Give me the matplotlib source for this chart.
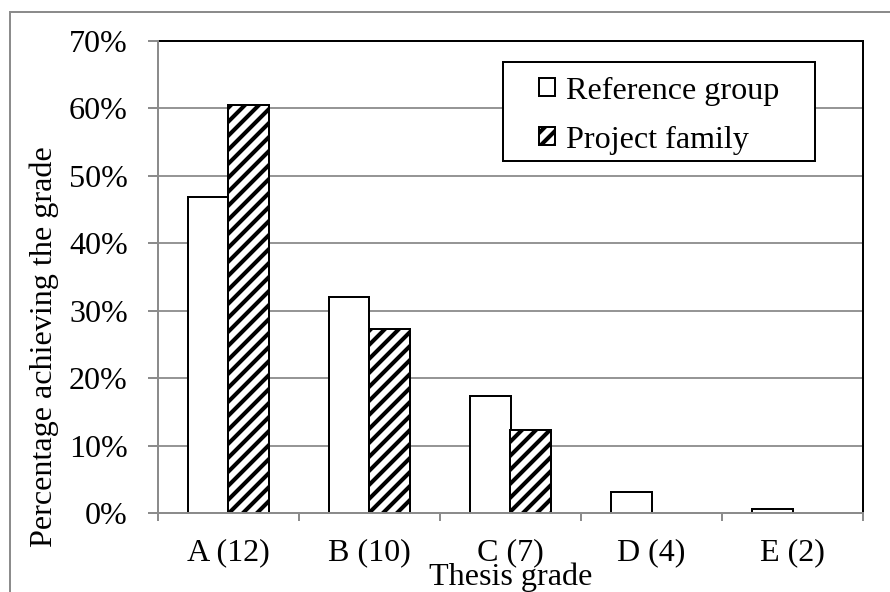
import numpy as np
import matplotlib
matplotlib.use('Agg')
import matplotlib.pyplot as plt
from matplotlib.patches import Rectangle
from matplotlib.ticker import PercentFormatter


# values
grades = ['A (12)', 'B (10)', 'C (7)', 'D (4)', 'E (2)']
reference = [0.469, 0.321, 0.174, 0.031, 0.007]
project = [0.605, 0.273, 0.123, 0.0, 0.0]

plt.rcParams['font.family'] = ['Liberation Serif', 'DejaVu Serif']
plt.rcParams['hatch.linewidth'] = 3.5

DPI = 84
W, H = 890, 592
fs = 27.5
grey = '#8c8c8c'
lw = 1.7

fig = plt.figure(figsize=(W / DPI, H / DPI), dpi=DPI)
# plot area in pixels: left 157.7, right 863.3, top 40.7, bottom 513.3
ax = fig.add_axes([157.7 / W, 1 - 513.3 / H, (863.3 - 157.7) / W, (513.3 - 40.7) / H])

# outer chart border (right and bottom are cut off in the original)
fig.patches.append(Rectangle((10 / W, -0.1), 1.2, 1 - 12 / H + 0.1, transform=fig.transFigure,
                             fill=False, edgecolor=grey, linewidth=lw))

x = np.arange(len(grades))
w = 0.287
b1 = ax.bar(x - w / 2, reference, w, facecolor='white', edgecolor='black', linewidth=lw,
            label='Reference group', zorder=2)
b2 = ax.bar(x + w / 2, project, w, facecolor='white', edgecolor='black', linewidth=lw,
            hatch='//', label='Project family', zorder=2)
for bars in (b1, b2):
    for p in bars:
        if p.get_height() == 0:
            p.set_linewidth(0)

ax.set_xlim(-0.5, len(grades) - 0.5)
ax.set_ylim(0, 0.7)
ax.set_yticks(np.arange(0, 0.71, 0.1))
ax.yaxis.set_major_formatter(PercentFormatter(1, decimals=0))
ax.set_xticks(x)
ax.set_xticklabels(grades)
ax.set_xticks(np.arange(-0.5, len(grades), 1), minor=True)

ax.set_axisbelow(True)
ax.grid(axis='y', color='#969696', linewidth=lw)

ax.tick_params(axis='y', direction='out', length=8.6, width=lw, color=grey, pad=17, labelsize=fs)
ax.tick_params(axis='x', which='major', length=0, pad=21, labelsize=fs)
ax.tick_params(axis='x', which='minor', direction='out', length=6.9, width=lw, color=grey)

for s in ('top', 'right'):
    ax.spines[s].set_color('black')
    ax.spines[s].set_linewidth(lw)
for s in ('left', 'bottom'):
    ax.spines[s].set_color(grey)
    ax.spines[s].set_linewidth(lw)
    ax.spines[s].set_zorder(3)

# axis titles, placed where they sit in the original
fig.text(52 / W, 1 - 547 / H, 'Percentage achieving the grade', rotation=90, rotation_mode='anchor',
         ha='left', va='baseline', fontsize=fs)
fig.text(510.5 / W, 1 - 585 / H, 'Thesis grade', ha='center', va='baseline', fontsize=fs)

# legend box drawn separately so the padding can match
ax.add_patch(Rectangle((0.4894, 0.7454), 0.4421, 0.2096, transform=ax.transAxes,
                       facecolor='white', edgecolor='black', linewidth=lw, zorder=4))
leg = ax.legend(loc='center', bbox_to_anchor=(0.7105, 0.8415), frameon=False, fontsize=fs,
                handlelength=0.5, handleheight=0.5, handletextpad=0.33, labelspacing=0.62,
                borderpad=0, borderaxespad=0)
leg.set_zorder(5)

fig.savefig('out.png', dpi=DPI)
